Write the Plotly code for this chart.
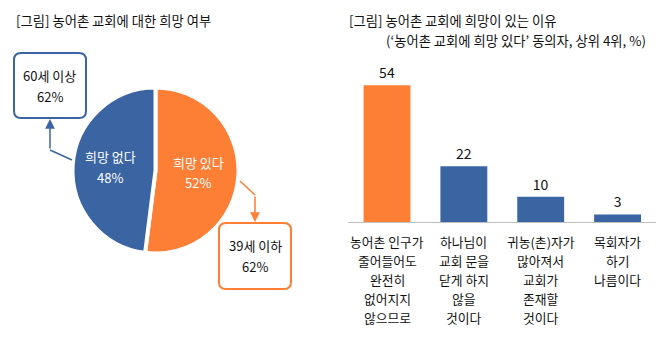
import plotly.graph_objects as go

W, H = 670, 339
FONT = "Noto Sans CJK KR"
ORANGE = "#FD7E35"
BLUE = "#3A64A2"
TXT = "#111111"

# ---- data ----
pie_labels = ["희망 있다", "희망 없다"]
pie_values = [52, 48]
pie_colors = [ORANGE, BLUE]
callout_group = ["39세 이하", "60세 이상"]
callout_pct = [62, 62]

bar_categories = [
    "농어촌 인구가<br>줄어들어도<br>완전히<br>없어지지<br>않으므로",
    "하나님이<br>교회 문을<br>닫게 하지<br>않을<br>것이다",
    "귀농(촌)자가<br>많아져서<br>교회가<br>존재할<br>것이다",
    "목회자가<br>하기<br>나름이다",
]
bar_values = [54, 22, 10, 3]
bar_colors = [ORANGE, BLUE, BLUE, BLUE]

title_left = "[그림] 농어촌 교회에 대한 희망 여부"
title_right_1 = "[그림] 농어촌 교회에 희망이 있는 이유"
title_right_2 = "(‘농어촌 교회에 희망 있다’ 동의자, 상위 4위, %)"


def px(x):
    return x / W


def py(y):
    return 1 - y / H


fig = go.Figure()

# pie
cx, cy, r = 155.5, 170.5, 83
fig.add_trace(go.Pie(
    labels=pie_labels, values=pie_values, sort=False, direction="clockwise",
    rotation=0, marker=dict(colors=pie_colors, line=dict(color="white", width=4)),
    textinfo="none", hoverinfo="skip", showlegend=False,
    domain=dict(x=[px(cx - r), px(cx + r)], y=[py(cy + r), py(cy - r)]),
))

# bars
fig.add_trace(go.Bar(
    x=bar_categories, y=bar_values, marker=dict(color=bar_colors, line=dict(width=0)),
    text=[str(v) for v in bar_values], textposition="outside", cliponaxis=False,
    textfont=dict(family=FONT, size=14, color=TXT), showlegend=False,
    xaxis="x", yaxis="y",
))

fig.update_layout(
    width=W, height=H, margin=dict(l=0, r=0, t=0, b=0),
    paper_bgcolor="white", plot_bgcolor="white",
    font=dict(family=FONT, size=13, color=TXT),
    bargap=0.39,
    xaxis=dict(domain=[px(348), px(656)], showline=True, linecolor="#BFBFBF",
               linewidth=1, showgrid=False, ticks="", showticklabels=False,
               fixedrange=True),
    yaxis=dict(domain=[py(222), py(70)], range=[0, 60], visible=False,
               showgrid=False, zeroline=False, fixedrange=True),
)

ann = []
TS = 13.3
ann.append(dict(x=px(14), y=py(21), xref="paper", yref="paper", xanchor="left",
                yanchor="middle", text=title_left, showarrow=False,
                font=dict(size=TS, color=TXT)))
ann.append(dict(x=px(347), y=py(21), xref="paper", yref="paper", xanchor="left",
                yanchor="middle", text=title_right_1, showarrow=False,
                font=dict(size=TS, color=TXT)))
ann.append(dict(x=px(384), y=py(40), xref="paper", yref="paper", xanchor="left",
                yanchor="middle", text=title_right_2, showarrow=False,
                font=dict(size=TS, color=TXT)))

# category labels, one line per annotation for wider line spacing
for cat in bar_categories:
    for i, line in enumerate(cat.split("<br>")):
        ann.append(dict(x=cat, y=py(241.5 + i * 19), xref="x", yref="paper",
                        xanchor="center", yanchor="middle", text=line, showarrow=False,
                        font=dict(size=12.8, color=TXT)))

# pie labels
pie_label_pos = [(198, 162), (110, 156)]
for (lx, ly), lab, val in zip(pie_label_pos, pie_labels, pie_values):
    ann.append(dict(x=px(lx), y=py(ly), xref="paper", yref="paper", xanchor="center",
                    yanchor="middle", text=lab, showarrow=False,
                    font=dict(size=13, color="white")))
    ann.append(dict(x=px(lx), y=py(ly + 21), xref="paper", yref="paper", xanchor="center",
                    yanchor="middle", text=f"{val}%", showarrow=False,
                    font=dict(size=13, color="white")))

# callout boxes
shapes = []


def rbox(x0, y0, x1, y1, rad, color):
    p = (f"M {px(x0 + rad)} {py(y0)} L {px(x1 - rad)} {py(y0)} "
         f"Q {px(x1)} {py(y0)} {px(x1)} {py(y0 + rad)} "
         f"L {px(x1)} {py(y1 - rad)} Q {px(x1)} {py(y1)} {px(x1 - rad)} {py(y1)} "
         f"L {px(x0 + rad)} {py(y1)} Q {px(x0)} {py(y1)} {px(x0)} {py(y1 - rad)} "
         f"L {px(x0)} {py(y0 + rad)} Q {px(x0)} {py(y0)} {px(x0 + rad)} {py(y0)} Z")
    return dict(type="path", path=p, xref="paper", yref="paper",
                line=dict(color=color, width=2), fillcolor="white")


boxes = [(219, 223, 291, 289), (14, 53, 86, 118)]
for (x0, y0, x1, y1), grp, pct, col in zip(boxes, callout_group, callout_pct, pie_colors):
    shapes.append(rbox(x0, y0, x1, y1, 7, col))
    mx, my = (x0 + x1) / 2, (y0 + y1) / 2
    ann.append(dict(x=px(mx), y=py(my - 10.5), xref="paper", yref="paper",
                    xanchor="center", yanchor="middle", text=grp, showarrow=False,
                    font=dict(size=13, color=TXT)))
    ann.append(dict(x=px(mx), y=py(my + 10.5), xref="paper", yref="paper",
                    xanchor="center", yanchor="middle", text=f"{pct}%", showarrow=False,
                    font=dict(size=13, color=TXT)))

# connectors
shapes.append(dict(type="line", xref="paper", yref="paper", x0=px(240), y0=py(181),
                   x1=px(255), y1=py(195), line=dict(color=ORANGE, width=1.5)))
ann.append(dict(x=px(255), y=py(222), ax=0, ay=-27, xref="paper", yref="paper",
                axref="pixel", ayref="pixel", text="", showarrow=True, arrowhead=2,
                arrowsize=1.3, arrowwidth=1.5, arrowcolor=ORANGE))
shapes.append(dict(type="line", xref="paper", yref="paper", x0=px(72), y0=py(160),
                   x1=px(50), y1=py(150), line=dict(color=BLUE, width=1.5)))
ann.append(dict(x=px(50), y=py(119), ax=0, ay=31, xref="paper", yref="paper",
                axref="pixel", ayref="pixel", text="", showarrow=True, arrowhead=2,
                arrowsize=1.3, arrowwidth=1.5, arrowcolor=BLUE))

fig.update_layout(annotations=ann, shapes=shapes)
fig.write_html("out.html")
